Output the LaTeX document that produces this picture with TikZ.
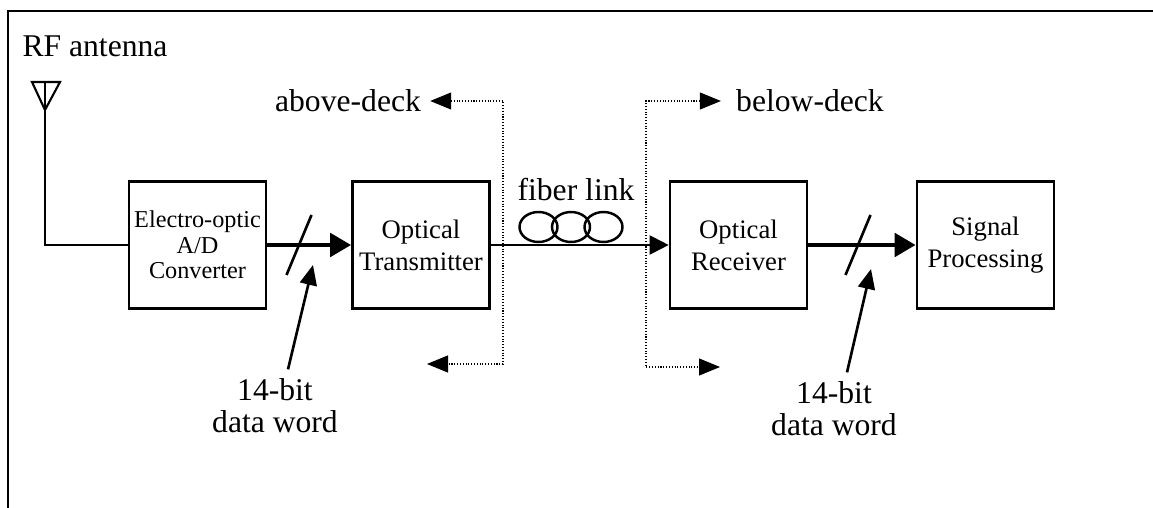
\documentclass[tikz,border=0pt]{standalone}
\usepackage{fontspec}
\setmainfont{Liberation Serif}
\usepackage{tikz}
\usetikzlibrary{arrows.meta}
\tikzset{blk/.style={draw, line width=1.5pt, minimum width=2.74cm, minimum height=2.54cm, align=center, inner sep=0pt, font=\fontsize{15.2}{18.2}\selectfont}}
\tikzset{lbl/.style={inner sep=0.18cm, align=center, font=\fontsize{18}{18.4}\selectfont}}
\tikzset{bus/.style={line width=2.8pt, -{Triangle[length=0.42cm, width=0.46cm]}}}
\tikzset{deck/.style={densely dotted, line width=0.6pt, {Triangle[length=0.42cm, width=0.34cm]}-{Triangle[length=0.42cm, width=0.34cm]}}}

\begin{document}
\begin{tikzpicture}
\useasboundingbox (0,0) rectangle (23.06,10.16);
\draw [line width=1pt] (23.06,9.94) -- (0.16,9.94) -- (0.16,0);
\node [lbl] (rf) at (1.9,9.24) {RF antenna};
\node [blk, font=\fontsize{13.8}{14.4}\selectfont] (adc) at (3.95,5.26) {Electro-optic\\A/D\\Converter};
\node [blk] (tx) at (8.42,5.26) {Optical\\Transmitter};
\node [blk] (rx) at (14.77,5.26) {Optical\\Receiver};
\node [blk] (sp) at (19.71,5.26) {Signal\\Processing};
\node [lbl] (above) at (6.96,8.14) {above-deck};
\node [lbl] (below) at (16.2,8.14) {below-deck};
\node [lbl] (fiber) at (11.52,6.36) {fiber link};
\node [lbl] (word1) at (5.5,2.04) {14-bit\\data word};
\node [lbl] (word2) at (16.68,1.98) {14-bit\\data word};
\coordinate (ant) at (0.9,7.96);
\coordinate (s1) at (5.98,5.26);
\coordinate (s2) at (17.16,5.26);
\coordinate (p1) at (6.26,4.86);
\coordinate (p2) at (17.42,4.78);
\coordinate (abovelow) at (8.54,2.88);
\coordinate (belowlow) at (14.40,2.82);
% antenna
\draw [line width=1.2pt, line join=miter] (0.64,8.52) -- (1.2,8.52) -- (ant) -- cycle;
\draw [line width=1.1pt] (0.9,8.52) -- (ant) |- (adc.west);
% links
\draw [bus] (adc.east) -- (tx.west);
\draw [bus] (rx.east) -- (sp.west);
\draw [line width=1.1pt, -{Triangle[length=0.38cm, width=0.38cm]}] (tx.east) -- (rx.west);
\foreach \x in {10.77,11.42,12.07}
  \draw [line width=1.4pt] (\x,5.62) ellipse (0.38cm and 0.3cm);
\draw [line width=1.5pt] ([shift={(-0.25,-0.6)}]s1) -- ([shift={(0.25,0.6)}]s1);
\draw [line width=1.5pt] ([shift={(-0.25,-0.6)}]s2) -- ([shift={(0.25,0.6)}]s2);
\draw [line width=1.5pt, -{Triangle[length=0.4cm, width=0.34cm]}] ([xshift=0.26cm]word1.north) -- (p1);
\draw [line width=1.5pt, -{Triangle[length=0.4cm, width=0.34cm]}] ([xshift=0.26cm]word2.north) -- (p2);
% deck boundary
\draw [deck] (above.east) -| (10.06,2.88) -- (abovelow);
\draw [deck] ([xshift=-0.12cm]below.west) -| (12.92,2.82) -- (belowlow);
\end{tikzpicture}
\end{document}
